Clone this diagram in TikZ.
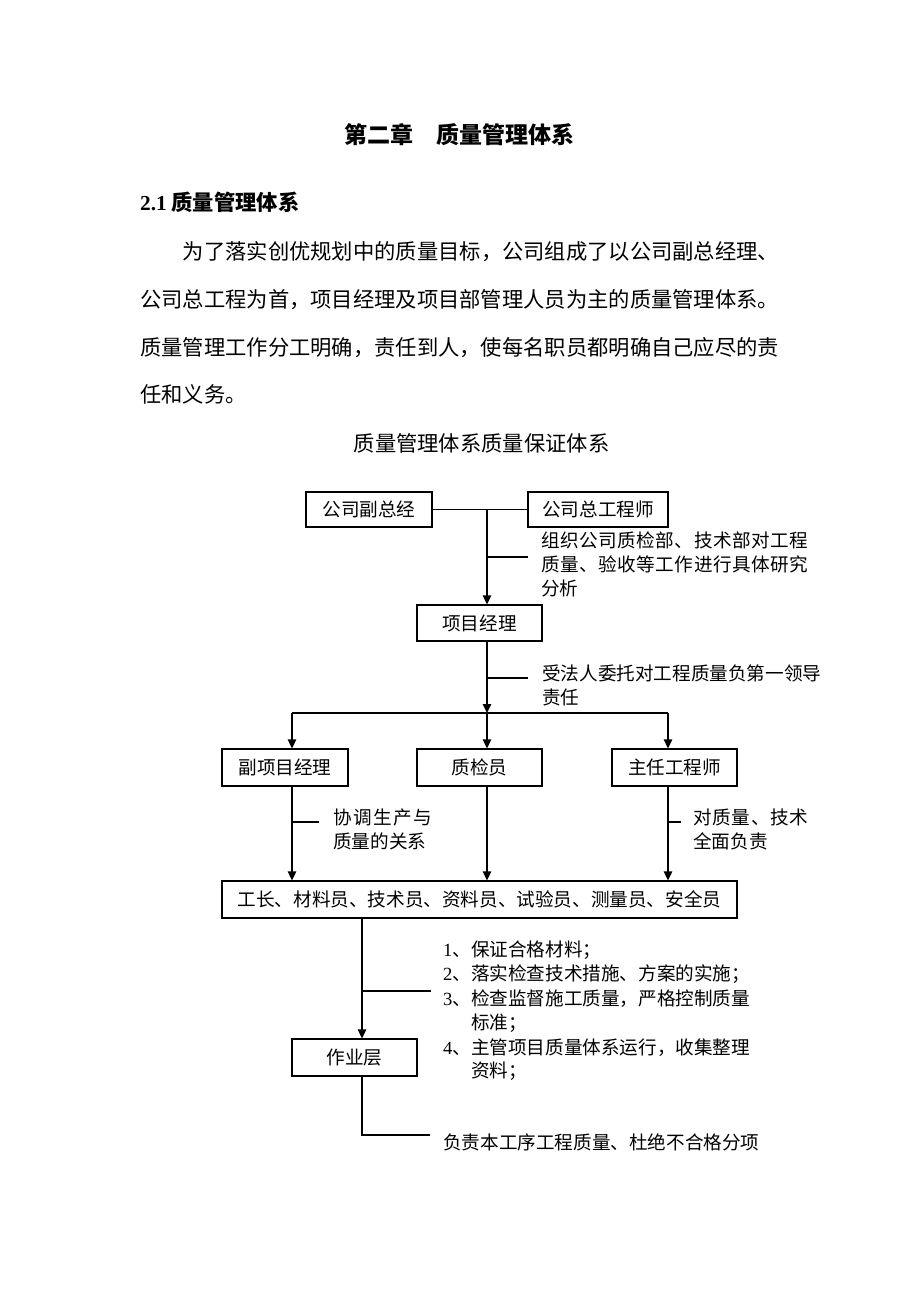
\documentclass[tikz,border=0pt]{standalone}
\usepackage{fontspec}
\setmainfont{Liberation Serif}
\newfontfamily\cjk{Noto Sans CJK SC}
\usetikzlibrary{arrows.meta}
\newcommand\dfont{\cjk\fontsize{18.6}{22}\selectfont}
\newcommand\bodyfont{\cjk\fontsize{21.3}{26}\selectfont}
\newcommand\ttlfont{\cjk\bfseries\fontsize{23}{28}\selectfont}
\begin{document}
\begin{tikzpicture}[x=1pt,y=-1pt,
  box/.style={draw, line width=1.3pt, inner sep=0pt, minimum height=36pt, font=\dfont},
  ln/.style={line width=1.3pt},
  arr/.style={ln, -{Triangle[length=9pt,width=8.5pt]}},
  lbl/.style={inner sep=0pt, anchor=base west, font=\dfont},
  body/.style={inner sep=0pt, anchor=base west, font=\bodyfont}]
\useasboundingbox[fill=white] (0,0) rectangle (920,1302);
% heading text
\node[inner sep=0pt, anchor=base, font=\ttlfont] (title) at (459,143.7) {第二章　质量管理体系};
\node[body] (sec) at (140,210) {{\rmfamily\bfseries 2.1} {\bfseries 质量管理体系}};
\node[body] (p1) at (182.6,259) {为了落实创优规划中的质量目标，公司组成了以公司副总经理、};
\node[body] (p2) at (140,307) {公司总工程为首，项目经理及项目部管理人员为主的质量管理体系。};
\node[body] (p3) at (140,355) {质量管理工作分工明确，责任到人，使每名职员都明确自己应尽的责};
\node[body] (p4) at (140,402) {任和义务。};
\node[inner sep=0pt, anchor=base, font=\bodyfont] (cap) at (481.5,451) {质量管理体系质量保证体系};
% boxes
\node[box, minimum width=126pt, minimum height=35pt] (gm) at (369,509.5) {公司副总经};
\node[box, minimum width=140pt, minimum height=35pt] (ceng) at (598,509.5) {公司总工程师};
\node[box, minimum width=125pt] (pm) at (479.5,623) {项目经理};
\node[box, minimum width=126pt, minimum height=37pt] (vpm) at (285,767.5) {副项目经理};
\node[box, minimum width=125pt, minimum height=37pt] (qc) at (479.5,767.5) {质检员};
\node[box, minimum width=125pt, minimum height=37pt] (eng) at (674.5,767.5) {主任工程师};
\node[box, minimum width=515pt, minimum height=37pt] (staff) at (479.5,899.5) {工长、材料员、技术员、资料员、试验员、测量员、安全员};
\node[box, minimum width=125pt, minimum height=37pt] (work) at (354.5,1057.5) {作业层};
% coordinates
\coordinate (j1) at (487,509.5);
\coordinate (k1) at (487,557);
\coordinate (k1e) at (528,557);
\coordinate (k2) at (487,678);
\coordinate (k2e) at (528,678);
\coordinate (bm) at (487,713);
\coordinate (bl) at (292,713);
\coordinate (br) at (668,713);
\coordinate (k3) at (292,822);
\coordinate (k3e) at (319,822);
\coordinate (k4) at (668,822);
\coordinate (k4e) at (681,822);
\coordinate (v) at (362,991);
\coordinate (ve) at (431,991);
\coordinate (w) at (362,1135);
\coordinate (we) at (430,1135);
% connectors
\draw[ln] (gm.east) -- (ceng.west);
\draw[arr] (j1) -- (j1 |- pm.north);
\draw[ln] (k1) -- (k1e);
\draw[arr] (pm.south -| bm) -- (bm);
\draw[ln] (k2) -- (k2e);
\draw[ln] (bl) -- (br);
\draw[arr] (bl) -- (bl |- vpm.north);
\draw[arr] (bm) -- (bm |- qc.north);
\draw[arr] (br) -- (br |- eng.north);
\draw[arr] (vpm.south -| bl) -- (bl |- staff.north);
\draw[arr] (qc.south -| bm) -- (bm |- staff.north);
\draw[arr] (eng.south -| br) -- (br |- staff.north);
\draw[ln] (k3) -- (k3e);
\draw[ln] (k4) -- (k4e);
\draw[arr] (staff.south -| v) -- (v |- work.north);
\draw[ln] (v) -- (ve);
\draw[ln] (work.south -| w) -- (w) -- (we);
% labels
\node[lbl] (l1a) at (541,547) {\makebox[267pt][s]{组\hfil 织\hfil 公\hfil 司\hfil 质\hfil 检\hfil 部\hfil 、\hfil 技\hfil 术\hfil 部\hfil 对\hfil 工\hfil 程}};
\node[lbl] (l1b) at (541,571) {\makebox[267pt][s]{质\hfil 量\hfil 、\hfil 验\hfil 收\hfil 等\hfil 工\hfil 作\hfil 进\hfil 行\hfil 具\hfil 体\hfil 研\hfil 究}};
\node[lbl] (l1c) at (541,595) {分析};
\node[lbl] (l2a) at (542,680) {受法人委托对工程质量负第一领导};
\node[lbl] (l2b) at (542,704) {责任};
\node[lbl] (l3a) at (333,824) {\makebox[99pt][s]{协\hfil 调\hfil 生\hfil 产\hfil 与}};
\node[lbl] (l3b) at (333,848) {质量的关系};
\node[lbl] (l4a) at (693,824) {\makebox[115pt][s]{对\hfil 质\hfil 量\hfil 、\hfil 技\hfil 术}};
\node[lbl] (l4b) at (693,848) {全面负责};
\node[lbl] (l5a) at (443,956) {{\rmfamily 1}、保证合格材料；};
\node[lbl] (l5b) at (443,980) {{\rmfamily 2}、落实检查技术措施、方案的实施；};
\node[lbl] (l5c) at (443,1005) {{\rmfamily 3}、检查监督施工质量，严格控制质量};
\node[lbl] (l5d) at (471,1029) {标准；};
\node[lbl] (l5e) at (443,1054) {{\rmfamily 4}、主管项目质量体系运行，收集整理};
\node[lbl] (l5f) at (471,1077) {资料；};
\node[lbl] (l6) at (443,1149) {负责本工序工程质量、杜绝不合格分项};
\end{tikzpicture}
\end{document}
